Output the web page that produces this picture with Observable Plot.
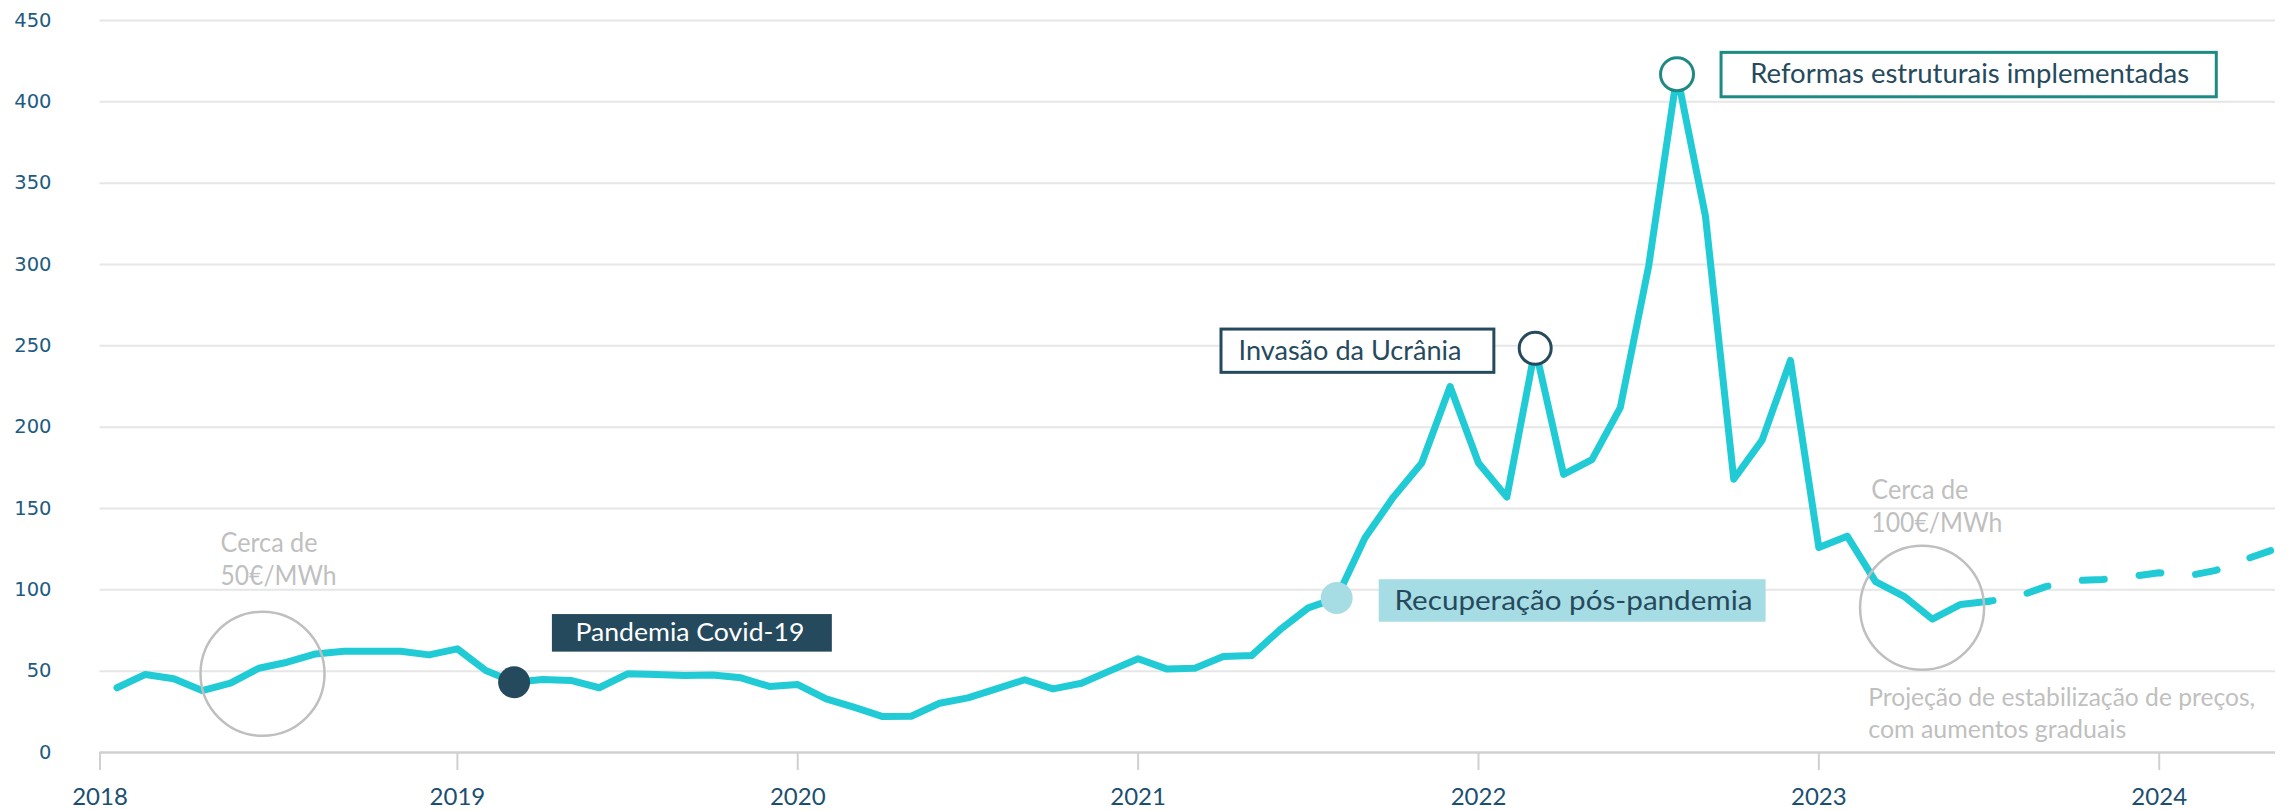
<!DOCTYPE html>
<html>
<head>
<meta charset="utf-8">
<script src="https://cdn.jsdelivr.net/npm/d3@7"></script>
<script src="https://cdn.jsdelivr.net/npm/@observablehq/plot@0.6"></script>
<style>
  html, body { margin: 0; padding: 0; background: #ffffff; }
  #chart svg { display: block; }
</style>
</head>
<body>
<div id="chart"></div>
<script>
// ---- data (monthly, index 0 = Jan 2018) ----
const yearLabels = ["2018", "2019", "2020", "2021", "2022", "2023", "2024"];
const yTicks = [0, 50, 100, 150, 200, 250, 300, 350, 400, 450];
const actualPrices = [
  39.8, 48, 45.3, 38.1, 42.6, 51.8, 55.5, 60.6, 62.3, 62.3, 62.3, 60,
  63.7, 50.4, 43.2, 44.9, 44.3, 39.8, 48.4, 48, 47.3, 47.7, 45.9, 40.6,
  41.8, 33, 27.7, 22.1, 22.3, 30.3, 33.6, 39.1, 44.7, 39.1, 42.6, 50.2,
  57.6, 51.4, 51.8, 59, 59.6, 75.4, 88.9, 95, 132, 157, 178, 225,
  178, 157, 248.5, 171, 180, 212, 299, 417, 330, 168, 192, 241,
  126, 133, 105, 96, 82, 91, 93
];
const projectedPrices = [93, 95.8, 102, 105.6, 106.4, 108.2, 110.5, 108.5, 112, 118.5, 124.5];

// event markers (month index of the event)
const eventNames = ["Pandemia Covid-19", "Recuperação pós-pandemia", "Invasão da Ucrânia", "Reformas estruturais implementadas"];
const eventMonths = [14, 43, 50, 55];

// ---- derived tables ----
const xStart = -0.6, xEnd = 76.1;
const solid = actualPrices.map((v, i) => ({i, v}));
const dashed = projectedPrices.map((v, k) => ({i: actualPrices.length - 1 + k, v}));
const tickPos = yearLabels.map((y, k) => (k === 0 ? xStart : k * 12));
const ev = eventMonths.map((m, k) => ({i: m, v: actualPrices[m], name: eventNames[k]}));

// annotation layout (in data units)
const boxes = [
  {x1: 15.35, x2: 25.22, y1: 61.7, y2: 84.8, tx: 16.16, ty: 73.2, text: eventNames[0], fill: "#264a5d", stroke: "none", color: "#ffffff", fs: 25},
  {x1: 44.5, x2: 58.14, y1: 80.1, y2: 106.2, tx: 45.04, ty: 93.1, text: eventNames[1], fill: "#a6dce3", stroke: "none", color: "#264a5d", fs: 27},
  {x1: 38.94, x2: 48.56, y1: 233.4, y2: 260.0, tx: 39.54, ty: 246.7, text: eventNames[2], fill: "#ffffff", stroke: "#264a5d", color: "#264a5d", fs: 27},
  {x1: 56.57, x2: 74.03, y1: 402.8, y2: 430.1, tx: 57.58, ty: 416.5, text: eventNames[3], fill: "#ffffff", stroke: "#1e8a83", color: "#264a5d", fs: 26}
];
const rings = [{i: 5.13, v: 48.4}, {i: 63.64, v: 89.0}];
const grayNotes = [
  {i: 3.65, v: 102.7, text: "Cerca de\n50€/MWh", fs: 26, lh: 1.28},
  {i: 61.85, v: 135.4, text: "Cerca de\n100€/MWh", fs: 26, lh: 1.28},
  {i: 61.74, v: 9.0, text: "Projeção de estabilização de preços,\ncom aumentos graduais", fs: 25, lh: 1.29}
];

const LINE = "#21cbd5";

const marks = [
  Plot.ruleY(yTicks.filter(d => d > 0), {stroke: "#e6e6e6", strokeWidth: 2}),
  Plot.text(yTicks, {y: d => d, frameAnchor: "left", dx: -48.5, textAnchor: "end", lineAnchor: "middle",
    text: d => String(d), fill: "#1d5b82", fontSize: 19.5, fontFamily: "DejaVu Sans"}),
  Plot.ruleY([0], {stroke: "#d0d0d0", strokeWidth: 2.5}),
  Plot.axisX(tickPos, {
    tickFormat: d => yearLabels[tickPos.indexOf(d)],
    tickSize: 18, tickPadding: 17, stroke: "#d0d0d0", strokeWidth: 2,
    fill: "#1b4f72", fontSize: 24, fontFamily: "Lato"
  }),
  Plot.line(solid, {x: "i", y: "v", stroke: LINE, strokeWidth: 7, strokeLinejoin: "round", strokeLinecap: "round"}),
  Plot.line(dashed, {x: "i", y: "v", stroke: LINE, strokeWidth: 7, strokeLinejoin: "round", strokeLinecap: "round",
    strokeDasharray: "22,35", strokeDashoffset: 18, clip: true}),
  Plot.dot(rings, {x: "i", y: "v", r: 62, stroke: "#bfbfbf", strokeWidth: 2.5, fill: "none"}),
  Plot.dot([ev[0]], {x: "i", y: "v", r: 16, fill: "#264a5d"}),
  Plot.dot([ev[1]], {x: "i", y: "v", r: 16, fill: "#a6dce3"}),
  Plot.dot([ev[2]], {x: "i", y: "v", r: 16, fill: "#ffffff", stroke: "#264a5d", strokeWidth: 3}),
  Plot.dot([ev[3]], {x: "i", y: "v", r: 16.5, fill: "#ffffff", stroke: "#1e8a83", strokeWidth: 3}),
  ...boxes.map(b => Plot.rect([b], {x1: "x1", x2: "x2", y1: "y1", y2: "y2", fill: b.fill, stroke: b.stroke, strokeWidth: 3})),
  ...boxes.map(b => Plot.text([b], {x: "tx", y: "ty", text: "text", textAnchor: "start", lineAnchor: "middle",
    fill: b.color, fontSize: b.fs, fontFamily: "Lato"})),
  ...grayNotes.map(n => Plot.text([n], {x: "i", y: "v", text: "text", textAnchor: "start", lineAnchor: "bottom",
    fill: "#bfbfbf", fontSize: n.fs, lineHeight: n.lh, fontFamily: "Lato"}))
];

const chart = Plot.plot({
  width: 2288, height: 810,
  marginLeft: 99.5, marginRight: 13, marginTop: 20, marginBottom: 58,
  x: {type: "linear", domain: [xStart, xEnd]},
  y: {domain: [0, 450], axis: null},
  style: {fontFamily: "Lato, 'Open Sans', sans-serif", background: "#ffffff", overflow: "visible"},
  marks
});

// match annotation text widths to the reference
const widths = {
  "Pandemia Covid-19": 229, "Recuperação pós-pandemia": 358, "Invasão da Ucrânia": 223,
  "Reformas estruturais implementadas": 439, "Cerca de": 97, "50€/MWh": 116, "100€/MWh": 131,
  "Projeção de estabilização de preços,": 387, "com aumentos graduais": 258
};
chart.querySelectorAll("text, tspan").forEach(el => {
  if (el.children.length) return;
  const w = widths[el.textContent];
  if (w) { el.setAttribute("textLength", w); el.setAttribute("lengthAdjust", "spacingAndGlyphs"); }
});

document.getElementById("chart").appendChild(chart);
</script>
</body>
</html>
